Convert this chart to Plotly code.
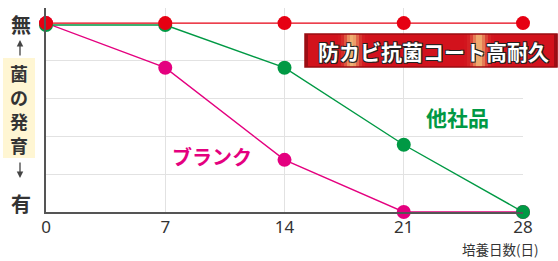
import plotly.graph_objects as go
import math

# ---- data ----
days = [0, 7, 14, 21, 28]
coat = [5, 5, 5, 5, 5]               # 防カビ抗菌コート高耐久
other = [4.95, 4.95, 3.82, 1.78, 0]  # 他社品
blank = [5, 3.82, 1.38, 0, 0]        # ブランク
tick_labels = ["0", "7", "14", "21", "28"]

W, H = 558, 261
L, R, T, B = 46, 35, 8, 49
PW, PH = W - L - R, H - T - B

def px(x):
    return (x - L) / PW

def py(y):
    return (H - B - y) / PH

RED = "#E60012"
GREEN = "#009944"
MAG = "#E4007F"
JP = "Noto Sans CJK JP"

fig = go.Figure()
for ys, c in [(blank, MAG), (other, GREEN), (coat, RED)]:
    fig.add_trace(go.Scatter(x=days, y=ys, mode="lines+markers",
                             line=dict(color=c, width=1.4),
                             marker=dict(color=c, size=14),
                             cliponaxis=False, showlegend=False, hoverinfo="skip"))

shapes = []
# gradient title box
bx0, bx1, by0, by1 = 305, 557, 34, 67
n = 84
for i in range(n):
    xa = bx0 + (bx1 - bx0) * i / n
    xb = bx0 + (bx1 - bx0) * (i + 1) / n
    xm = (xa + xb) / 2
    w = math.exp(-((xm - 352) / 7) ** 2) + math.exp(-((xm - 479) / 7) ** 2)
    w = min(w, 1) * 0.85
    edge = min(xm - bx0, bx1 - xm)
    dark = 0.25 if edge < 3 else 0
    r = 210 + (245 - 210) * w
    g = 18 + (205 - 18) * w
    b = 28 + (130 - 28) * w
    r, g, b = r * (1 - dark), g * (1 - dark), b * (1 - dark)
    shapes.append(dict(type="rect", xref="paper", yref="paper",
                       x0=px(xa), x1=px(xb) + 0.001, y0=py(by1), y1=py(by0),
                       fillcolor=f"rgb({int(r)},{int(g)},{int(b)})",
                       line=dict(width=0), layer="above"))
shapes.append(dict(type="rect", xref="paper", yref="paper",
                   x0=px(bx0), x1=px(bx1), y0=py(by1), y1=py(by0),
                   fillcolor="rgba(0,0,0,0)", line=dict(color="#9a0c12", width=1.5), layer="above"))
# yellow label box
shapes.append(dict(type="rect", xref="paper", yref="paper",
                   x0=px(3), x1=px(35), y0=py(158), y1=py(58),
                   fillcolor="#FFF6D3", line=dict(width=0)))

ann = []
def text(x, y, s, size, color="#333333", **kw):
    ann.append(dict(x=px(x), y=py(y), xref="paper", yref="paper", text=s,
                    showarrow=False, font=dict(family=JP, size=size, color=color, **kw),
                    xanchor="center", yanchor="middle"))

text(21, 24, "無", 20, weight="bold")
text(21, 203, "有", 20, weight="bold")
for ch, yy in zip("菌の発育", [73, 97, 121, 145]):
    text(19, yy, ch, 18, weight="bold")
text(457, 117, "他社品", 21, color=GREEN, weight="bold")
text(212, 156, "ブランク", 20, color=MAG, weight="bold")
text(500, 249, "培養日数(日)", 13.5)
text(433, 51, "防カビ抗菌コート高耐久", 21, color="white", weight="bold",
     shadow="-1px -1px 0 #222, 1px -1px 0 #222, -1px 1px 0 #222, 1px 1px 0 #222")

# arrows
for tip, tail in [(40, 57), (178, 161)]:
    ann.append(dict(x=px(20), y=py(tip), xref="paper", yref="paper", text="",
                    showarrow=True, ax=0, ay=tail - tip, arrowhead=2, arrowsize=1,
                    arrowwidth=1.3, arrowcolor="#444444"))

fig.update_layout(
    width=W, height=H, margin=dict(l=L, r=R, t=T, b=B),
    paper_bgcolor="white", plot_bgcolor="white",
    shapes=shapes, annotations=ann,
    xaxis=dict(range=[0, 28], tickvals=days, ticktext=tick_labels,
               showgrid=True, gridcolor="#e2e2e2", gridwidth=1,
               showline=True, linecolor="#555555", linewidth=1.5,
               zeroline=False, ticks="", fixedrange=True, ticklabelstandoff=-1,
               tickfont=dict(family="Noto Sans", size=17, color="#333333")),
    yaxis=dict(range=[0, 5.4], tickvals=[1, 2, 3, 4], showticklabels=False,
               showgrid=True, gridcolor="#e2e2e2", gridwidth=1,
               showline=True, linecolor="#555555", linewidth=1.5,
               zeroline=False, ticks="", fixedrange=True),
)
fig.write_html("out.html")
